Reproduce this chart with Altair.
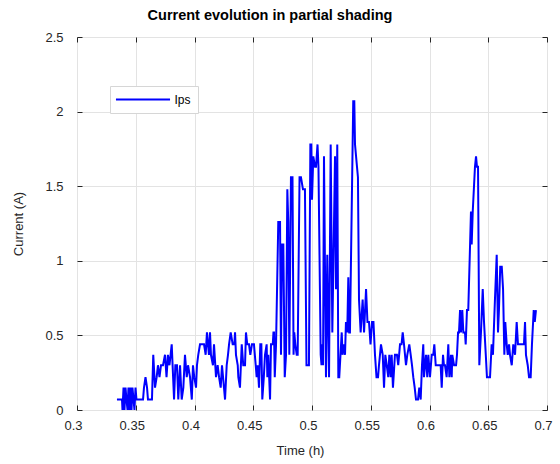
import altair as alt
import pandas as pd

# Time (h) and current (A)
time_h = [
    0.3340, 0.3383, 0.3387, 0.3396, 0.3404, 0.3413, 0.3421, 0.3430, 0.3438, 0.3447,
    0.3455, 0.3464, 0.3472, 0.3481, 0.3489, 0.3498, 0.3506, 0.3562, 0.3570, 0.3583,
    0.3596, 0.3604, 0.3621, 0.3638, 0.3649, 0.3664, 0.3678, 0.3689, 0.3702, 0.3715,
    0.3732, 0.3749, 0.3762, 0.3774, 0.3787, 0.3806, 0.3826, 0.3837, 0.3851, 0.3862,
    0.3877, 0.3891, 0.3905, 0.3919, 0.3934, 0.3945, 0.3962, 0.3977, 0.3987, 0.3998,
    0.4013, 0.4021, 0.4032, 0.4047, 0.4064, 0.4081, 0.4095, 0.4106, 0.4123, 0.4132,
    0.4140, 0.4157, 0.4166, 0.4183, 0.4197, 0.4209, 0.4223, 0.4234, 0.4260, 0.4274,
    0.4285, 0.4294, 0.4308, 0.4325, 0.4339, 0.4345, 0.4353, 0.4368, 0.4373, 0.4387,
    0.4402, 0.4415, 0.4430, 0.4438, 0.4449, 0.4464, 0.4475, 0.4489, 0.4506, 0.4521,
    0.4529, 0.4538, 0.4549, 0.4560, 0.4569, 0.4577, 0.4590, 0.4600, 0.4614, 0.4620,
    0.4628, 0.4643, 0.4651, 0.4666, 0.4672, 0.4677, 0.4683, 0.4694, 0.4713, 0.4728,
    0.4736, 0.4745, 0.4756, 0.4768, 0.4779, 0.4790, 0.4798, 0.4807, 0.4821, 0.4834,
    0.4843, 0.4849, 0.4858, 0.4870, 0.4878, 0.4894, 0.4906, 0.4923, 0.4940, 0.4953,
    0.4966, 0.4974, 0.4986, 0.4994, 0.5000, 0.5011, 0.5026, 0.5034, 0.5047, 0.5055,
    0.5074, 0.5081, 0.5088, 0.5094, 0.5102, 0.5119, 0.5130, 0.5145, 0.5159, 0.5173,
    0.5196, 0.5204, 0.5215, 0.5224, 0.5232, 0.5253, 0.5260, 0.5272, 0.5281, 0.5289,
    0.5300, 0.5309, 0.5317, 0.5323, 0.5351, 0.5360, 0.5366, 0.5383, 0.5391, 0.5400,
    0.5414, 0.5431, 0.5443, 0.5460, 0.5472, 0.5485, 0.5498, 0.5511, 0.5523, 0.5536,
    0.5549, 0.5562, 0.5570, 0.5587, 0.5602, 0.5613, 0.5624, 0.5636, 0.5649, 0.5658,
    0.5670, 0.5678, 0.5689, 0.5706, 0.5723, 0.5734, 0.5749, 0.5762, 0.5772, 0.5783,
    0.5800, 0.5811, 0.5828, 0.5840, 0.5851, 0.5862, 0.5874, 0.5885, 0.5902, 0.5913,
    0.5925, 0.5936, 0.5947, 0.5953, 0.5970, 0.5981, 0.5990, 0.6004, 0.6019, 0.6032,
    0.6041, 0.6053, 0.6064, 0.6081, 0.6095, 0.6104, 0.6115, 0.6123, 0.6132, 0.6146,
    0.6160, 0.6169, 0.6183, 0.6189, 0.6194, 0.6209, 0.6226, 0.6234, 0.6243, 0.6251,
    0.6260, 0.6268, 0.6279, 0.6288, 0.6302, 0.6308, 0.6319, 0.6330, 0.6353, 0.6359,
    0.6368, 0.6387, 0.6396, 0.6404, 0.6413, 0.6424, 0.6438, 0.6453, 0.6464, 0.6479,
    0.6489, 0.6515, 0.6529, 0.6540, 0.6557, 0.6572, 0.6583, 0.6591, 0.6602, 0.6615,
    0.6626, 0.6637, 0.6645, 0.6657, 0.6666, 0.6677, 0.6685, 0.6700, 0.6713, 0.6728,
    0.6742, 0.6753, 0.6779, 0.6804, 0.6813, 0.6821, 0.6836, 0.6847, 0.6861, 0.6872,
    0.6887, 0.6896, 0.6906,
]
current_a = [
    0.07, 0.07, 0.00, 0.15, 0.00, 0.15, 0.07, 0.00, 0.15, 0.00,
    0.15, 0.00, 0.15, 0.07, 0.00, 0.15, 0.07, 0.07, 0.15, 0.22,
    0.15, 0.07, 0.07, 0.07, 0.37, 0.15, 0.22, 0.30, 0.22, 0.30,
    0.30, 0.37, 0.22, 0.37, 0.30, 0.44, 0.07, 0.30, 0.30, 0.07,
    0.30, 0.07, 0.15, 0.37, 0.22, 0.30, 0.22, 0.07, 0.30, 0.22,
    0.15, 0.30, 0.37, 0.44, 0.44, 0.44, 0.37, 0.52, 0.37, 0.52,
    0.37, 0.30, 0.44, 0.22, 0.30, 0.22, 0.15, 0.30, 0.07, 0.30,
    0.37, 0.44, 0.52, 0.44, 0.44, 0.52, 0.37, 0.30, 0.22, 0.15,
    0.44, 0.30, 0.30, 0.52, 0.44, 0.44, 0.37, 0.44, 0.44, 0.30,
    0.22, 0.30, 0.15, 0.44, 0.44, 0.07, 0.22, 0.37, 0.44, 0.22,
    0.37, 0.07, 0.44, 0.44, 0.52, 0.52, 0.22, 0.44, 1.26, 1.26,
    0.37, 1.11, 1.11, 0.22, 0.37, 1.48, 1.26, 0.37, 1.56, 1.56,
    0.37, 0.52, 0.44, 0.37, 0.37, 1.56, 1.56, 1.48, 1.48, 0.30,
    0.30, 0.30, 1.78, 1.78, 1.41, 1.70, 1.63, 1.63, 1.78, 1.63,
    0.37, 0.30, 0.44, 0.30, 1.70, 0.22, 1.04, 0.22, 1.78, 0.52,
    1.70, 0.81, 1.78, 0.22, 0.22, 0.52, 0.37, 0.44, 0.37, 0.59,
    0.52, 0.89, 0.52, 0.52, 2.07, 2.07, 1.78, 1.63, 1.56, 0.74,
    0.52, 0.74, 0.52, 0.81, 0.59, 0.59, 0.44, 0.59, 0.59, 0.37,
    0.22, 0.22, 0.30, 0.44, 0.37, 0.15, 0.37, 0.30, 0.22, 0.37,
    0.22, 0.37, 0.15, 0.37, 0.37, 0.30, 0.44, 0.44, 0.52, 0.44,
    0.30, 0.37, 0.44, 0.37, 0.30, 0.22, 0.15, 0.07, 0.07, 0.15,
    0.07, 0.30, 0.44, 0.22, 0.37, 0.22, 0.37, 0.22, 0.37, 0.37,
    0.44, 0.30, 0.30, 0.30, 0.30, 0.15, 0.37, 0.30, 0.30, 0.22,
    0.44, 0.22, 0.37, 0.22, 0.37, 0.30, 0.30, 0.37, 0.52, 0.52,
    0.67, 0.52, 0.67, 0.52, 0.52, 0.44, 0.67, 0.67, 1.33, 1.11,
    1.33, 1.63, 1.70, 1.63, 1.63, 0.30, 0.52, 0.81, 0.59, 0.37,
    0.22, 0.22, 0.44, 0.37, 0.74, 1.04, 0.52, 0.67, 0.96, 0.96,
    0.81, 0.37, 0.59, 0.44, 0.37, 0.44, 0.37, 0.30, 0.44, 0.37,
    0.59, 0.44, 0.44, 0.44, 0.59, 0.37, 0.30, 0.22, 0.22, 0.44,
    0.67, 0.59, 0.67,
]
series_name = ["Ips"]
x_ticks = [0.3, 0.35, 0.4, 0.45, 0.5, 0.55, 0.6, 0.65, 0.7]
y_ticks = [0, 0.5, 1, 1.5, 2, 2.5]

df = pd.DataFrame({"Time": time_h, "Current": current_a})
df["series"] = series_name[0]

FONT = "Liberation Sans"
DARK = "#262626"
GRID = "#e3e3e3"

xs = alt.Scale(domain=[0.3, 0.7], nice=False, zero=False)
ys = alt.Scale(domain=[0, 2.5], nice=False)

main = alt.Chart(df).mark_line(strokeWidth=2, color="#0000ff").encode(
    x=alt.X("Time:Q", scale=xs, axis=alt.Axis(
        values=x_ticks, format="~g", title="Time (h)", orient="bottom",
        offset=-5, tickSize=5, tickColor=DARK, tickWidth=1, domain=False,
        grid=True, gridColor=GRID, gridWidth=1,
        labelFont=FONT, labelFontSize=13, labelColor=DARK, labelPadding=9,
        labelOffset=-4, labelFlush=False,
        titleFont=FONT, titleFontSize=13, titleFontWeight="normal", titleColor=DARK,
        titlePadding=12, titleX=223,
    )),
    y=alt.Y("Current:Q", scale=ys, axis=alt.Axis(
        values=y_ticks, format="~g", title="Current (A)", orient="left",
        offset=-5, tickSize=5, tickColor=DARK, tickWidth=1, domain=False,
        grid=True, gridColor=GRID, gridWidth=1,
        labelFont=FONT, labelFontSize=13, labelColor=DARK, labelPadding=14,
        labelFlush=False,
        titleFont=FONT, titleFontSize=13, titleFontWeight="normal", titleColor=DARK,
        titlePadding=19,
    )),
    color=alt.Color("series:N", scale=alt.Scale(domain=series_name, range=["#0000ff"]),
                    legend=alt.Legend(
                        title=None, orient="none", legendX=33, legendY=49,
                        padding=7, fillColor="white", strokeColor="#d6d6d6",
                        cornerRadius=0, symbolType="M-5,0H5", symbolSize=117,
                        symbolStrokeWidth=2, symbolOffset=19.5, labelOffset=25,
                        labelFont=FONT, labelFontSize=12, labelColor="black",
                    )),
)

mirror = alt.Chart(df).mark_line(opacity=0).encode(
    x=alt.X("Time:Q", scale=xs, axis=alt.Axis(
        values=x_ticks, orient="top", offset=-5, tickSize=5, tickColor=DARK,
        tickWidth=1, domain=False, grid=False, labels=False, title=None)),
    y=alt.Y("Current:Q", scale=ys, axis=alt.Axis(
        values=y_ticks, orient="right", offset=-5, tickSize=5, tickColor=DARK,
        tickWidth=1, domain=False, grid=False, labels=False, title=None)),
)

chart = alt.layer(main, mirror).resolve_axis(
    x="independent", y="independent"
).properties(
    width=470, height=373,
    autosize=alt.AutoSizeParams(type="none"),
    padding={"left": 77, "top": 37, "right": 13, "bottom": 54},
    title=alt.TitleParams(
        "Current evolution in partial shading", font=FONT, fontSize=14.5,
        fontWeight="bold", color="black", anchor="middle", dx=-42, offset=8,
    ),
).configure_view(
    stroke=DARK, strokeWidth=1,
).configure(background="white")

chart.save("out.html", embed_options={"renderer": "svg", "actions": False})
